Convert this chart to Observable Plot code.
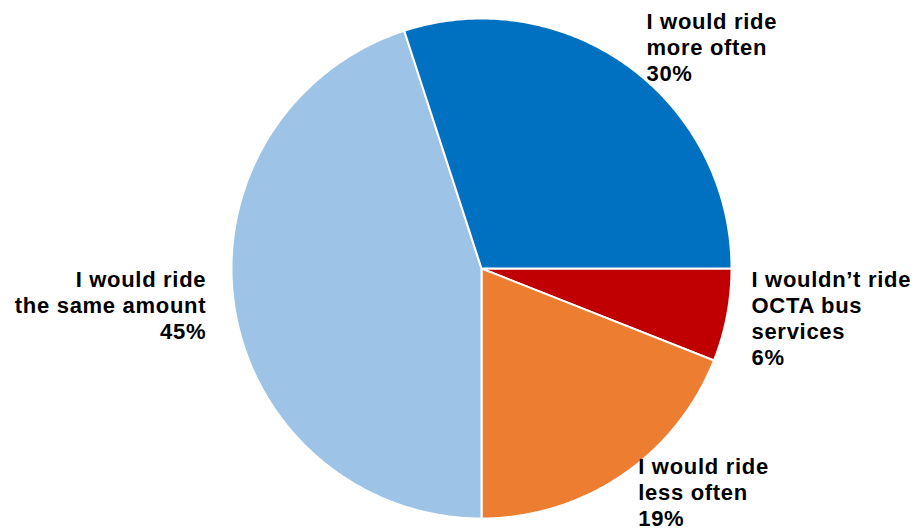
<!DOCTYPE html>
<html>
<head>
<meta charset="utf-8">
<script src="https://cdn.jsdelivr.net/npm/d3@7"></script>
<script src="https://cdn.jsdelivr.net/npm/@observablehq/plot@0.6"></script>
<style>
  html, body { margin: 0; padding: 0; background: #fff; }
  #chart { width: 916px; height: 531px; }
</style>
</head>
<body>
<div id="chart"></div>
<script>
// Data (clockwise order starting at 3 o'clock)
const categories = ["I wouldn’t ride OCTA bus services", "I would ride less often", "I would ride the same amount", "I would ride more often"];
const labelLines = [
  "I wouldn’t ride\nOCTA bus\nservices",
  "I would ride\nless often",
  "I would ride\nthe same amount",
  "I would ride\nmore often"
];
const values = [6, 19, 45, 30];
const colors = ["#C00000", "#ED7D31", "#9DC3E6", "#0070C0"];

// Layout for labels (data units of the unit-circle frame)
const labelLayout = [
  {x: 1.08, y: -0.198, anchor: "start"},
  {x: 0.627, y: -0.894, anchor: "start"},
  {x: -1.101, y: -0.145, anchor: "end"},
  {x: 0.66, y: 0.888, anchor: "start"}
];

const pie = d3.pie().sort(null).startAngle(Math.PI / 2).endAngle(Math.PI / 2 + 2 * Math.PI)(values);
const pts = [];
pie.forEach((s, i) => {
  const cat = categories[i];
  pts.push({cat, x: 0, y: 0});
  const n = Math.max(8, Math.ceil((s.endAngle - s.startAngle) / 0.01));
  for (let k = 0; k <= n; k++) {
    const a = s.startAngle + (s.endAngle - s.startAngle) * k / n;
    pts.push({cat, x: Math.sin(a), y: Math.cos(a)});
  }
  pts.push({cat, x: 0, y: 0});
});

const labels = categories.map((c, i) => ({
  text: labelLines[i] + "\n" + values[i] + "%",
  ...labelLayout[i]
}));

const textOpts = {x: "x", y: "y", text: "text", lineAnchor: "middle", lineHeight: 1.18, fontSize: 22, fontWeight: "bold", fill: "#000"};

const chart = Plot.plot({
  width: 916,
  height: 531,
  margin: 0,
  x: {domain: [-1, 1], range: [231, 731], axis: null},
  y: {domain: [-1, 1], range: [518, 18], axis: null},
  color: {domain: categories, range: colors},
  style: {fontFamily: "'Liberation Sans', Arial, sans-serif", background: "#fff", letterSpacing: "0.7px"},
  marks: [
    Plot.line(pts, {x: "x", y: "y", z: "cat", fill: "cat", stroke: "white", strokeWidth: 2, strokeLinejoin: "round", curve: "linear-closed"}),
    Plot.text(labels.filter(d => d.anchor === "start"), {...textOpts, textAnchor: "start"}),
    Plot.text(labels.filter(d => d.anchor === "end"), {...textOpts, textAnchor: "end"})
  ]
});
document.getElementById("chart").appendChild(chart);
</script>
</body>
</html>
